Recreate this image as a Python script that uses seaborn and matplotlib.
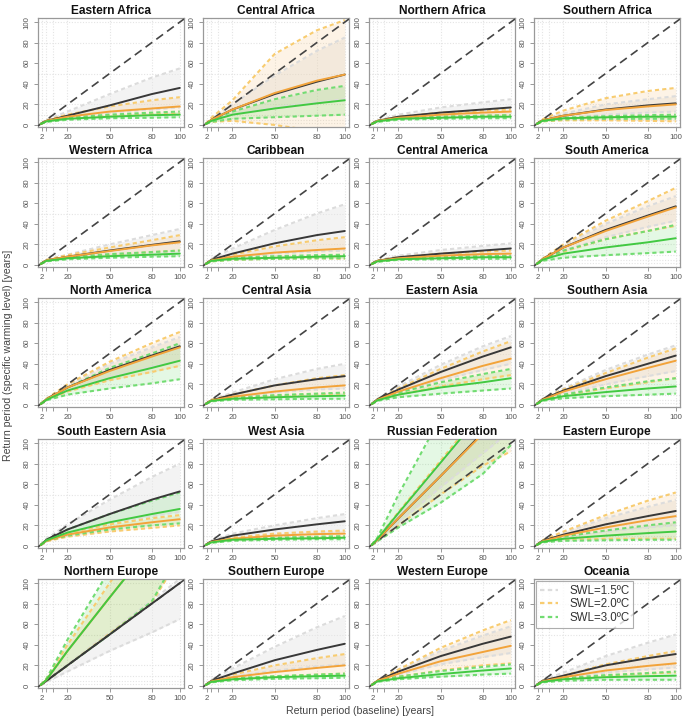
import matplotlib
matplotlib.use("Agg")
import matplotlib.pyplot as plt
from matplotlib.lines import Line2D
import pandas as pd
import seaborn as sns

regions = ["Eastern Africa", "Central Africa", "Northern Africa", "Southern Africa",
           "Western Africa", "Caribbean", "Central America", "South America",
           "North America", "Central Asia", "Eastern Asia", "Southern Asia",
           "South Eastern Asia", "West Asia", "Russian Federation", "Eastern Europe",
           "Northern Europe", "Southern Europe", "Western Europe", "Oceania"]

# baseline return periods at which the curves were read
rp = [1, 5, 20, 50, 80, 100]

# SWL = 1.5 degC : median / lower / upper
med_15 = [
    [1, 4, 9, 19, 30, 36], [1, 5, 15, 30, 42, 49], [1, 4, 8, 12, 15, 17], [1, 4.5, 9, 15, 19, 21],
    [1, 4.5, 8, 14, 19.5, 23], [1, 5, 11, 21, 29, 33], [1, 4, 7.5, 11, 14, 16], [1, 5.5, 17, 34, 48, 57],
    [1, 5.5, 17, 34, 48, 57], [1, 4.5, 10, 19, 25, 28], [1, 5.5, 15, 32, 47, 56], [1, 5.5, 14, 28, 40, 48],
    [1, 6, 16, 31, 45, 53], [1, 4.5, 10, 16, 21, 24], [1, 6, 27, 68, 110, 137], [1, 5, 11, 21, 29, 34],
    [1, 5, 20, 50, 80, 100], [1, 5, 12, 25, 35, 41], [1, 5, 14, 29, 41, 48], [1, 5, 10, 20, 27, 31]]
low_15 = [
    [1, 3.5, 7, 12, 15, 17], [1, 4, 10, 17, 22, 25], [1, 3.5, 6, 8, 9, 10], [1, 4, 7, 10, 12, 13],
    [1, 4, 6.5, 10, 12, 13], [1, 4, 7, 11, 13, 14], [1, 3.5, 6, 8, 9.5, 10], [1, 5, 14, 27, 37, 43],
    [1, 5, 14, 27, 37, 43], [1, 4, 7.5, 12, 15, 16], [1, 5, 12, 24, 34, 40], [1, 5, 11, 20, 28, 33],
    [1, 5, 12, 22, 29, 33], [1, 4, 7.5, 11, 13, 14], [1, 5.5, 23, 57, 90, 112], [1, 4.5, 8, 14, 18, 20],
    [1, 4, 14, 34, 52, 65], [1, 4.5, 9, 15, 19, 21], [1, 4.5, 11, 21, 28, 32], [1, 4.5, 8, 13, 16, 18]]
high_15 = [
    [1, 5, 13, 30, 46, 55], [1, 6, 20, 48, 72, 85], [1, 4.5, 10, 17, 22, 25], [1, 5, 11, 20, 25, 28],
    [1, 5, 10, 20, 29, 35], [1, 6, 16, 34, 50, 59], [1, 4.5, 9, 14.5, 18.5, 21], [1, 6, 19, 40, 57, 67],
    [1, 6, 19, 40, 56, 66], [1, 5, 12, 25, 35, 40], [1, 6, 18, 39, 57, 67], [1, 6, 16, 34, 49, 58],
    [1, 7, 21, 45, 67, 80], [1, 5, 12, 20, 27, 31], [1, 6.5, 31, 80, 128, 160], [1, 5.5, 13, 27, 38, 45],
    [1, 5.5, 21, 52, 83, 104], [1, 6, 17, 38, 57, 68], [1, 5.5, 16, 34, 49, 58], [1, 5.5, 13, 29, 42, 50]]

# SWL = 2.0 degC
med_20 = [
    [1, 4, 8, 13, 16, 18], [1, 5, 15, 31, 43, 49], [1, 4, 7, 10, 12, 13], [1, 4.5, 9, 14.5, 18, 20],
    [1, 4.5, 8, 13.5, 19, 22], [1, 4.5, 8, 12, 14.5, 16], [1, 4, 6.5, 9, 10.5, 11], [1, 5.5, 17, 33, 47, 56],
    [1, 5.5, 17, 33, 47, 56], [1, 4.5, 8, 13, 17, 19], [1, 5, 13, 26, 38, 45], [1, 5, 13, 25, 36, 43],
    [1, 5, 11, 18, 23, 26], [1, 4, 7, 10, 11.5, 12], [1, 6, 27, 68, 109, 136], [1, 4.5, 10, 18, 25, 29],
    [1, 6, 34, 86, 138, 172], [1, 4.5, 8.5, 13.5, 17.5, 20], [1, 5, 12, 24, 33, 39], [1, 4.5, 8.5, 15, 19.5, 22]]
low_20 = [
    [1, 3.5, 6, 9, 10.5, 11], [1, 3, 4, 0, -6, -10], [1, 3.5, 6, 8, 9, 9.5], [1, 3.5, 4.5, 4.5, 4, 3.5],
    [1, 4, 6.5, 10, 12.5, 14], [1, 3.5, 5, 6, 6.5, 6], [1, 3.5, 5.5, 7, 8, 8.5], [1, 5, 13, 25, 33, 38],
    [1, 5, 13, 24, 32, 38], [1, 4, 6.5, 9, 10.5, 11], [1, 4.5, 10, 18, 25, 29], [1, 4.5, 9.5, 16, 22, 26],
    [1, 4.5, 9, 14, 17.5, 20], [1, 3.5, 6, 7.5, 8.5, 9], [1, 5, 20, 50, 78, 92], [1, 4, 6, 7, 7, 7],
    [1, 5, 20, 51, 81, 125], [1, 4, 6.5, 9, 11, 12], [1, 4.5, 9, 15, 20, 22], [1, 4, 6.5, 10, 12, 13]]
high_20 = [
    [1, 4.5, 10, 18, 24, 27], [1, 7, 24, 69, 92, 102], [1, 4, 8, 12, 14, 15], [1, 5.5, 14, 26, 33, 36],
    [1, 5, 9.5, 17, 24, 29], [1, 5, 10, 18, 24, 27], [1, 4.5, 7.5, 11, 13, 14], [1, 6, 20, 43, 62, 75],
    [1, 6, 20, 42, 60, 71], [1, 5, 10, 19, 26, 29], [1, 5.5, 16, 35, 52, 62], [1, 5.5, 15, 31, 46, 55],
    [1, 5.5, 12.5, 21, 27, 30], [1, 4.5, 8, 12, 14, 15], [1, 7, 33, 83, 133, 166], [1, 5.5, 14, 30, 44, 52],
    [1, 7, 40, 100, 160, 200], [1, 5, 11, 20, 27, 31], [1, 5.5, 16, 37, 54, 64], [1, 5, 10, 21, 29, 34]]

# SWL = 3.0 degC
med_30 = [
    [1, 3.5, 6, 8, 9.5, 10], [1, 4, 10, 16, 21, 24], [1, 3.5, 6, 7, 8, 8], [1, 4, 6.5, 7.5, 8, 8],
    [1, 4, 6.5, 8.5, 10, 11], [1, 4, 6, 7, 8, 8.5], [1, 3.5, 5.5, 6.5, 7.5, 7.5], [1, 5, 11, 17, 22, 26],
    [1, 5, 14, 26, 36, 43], [1, 4, 6, 7.5, 8.5, 9], [1, 4.5, 10, 17, 22, 26], [1, 4.5, 8.5, 12.5, 16, 18],
    [1, 5.5, 13, 23, 31, 36], [1, 3.5, 6, 7, 7.5, 8], [1, 7, 32, 81, 130, 162], [1, 4, 7, 10, 12.5, 14],
    [1, 6, 34, 86, 137, 171], [1, 4, 6.5, 8.5, 9.5, 10], [1, 4.5, 7.5, 11.5, 15, 17], [1, 4, 6.5, 8.5, 9.5, 10]]
low_30 = [
    [1, 3, 5, 6.5, 7, 7.5], [1, 3, 6, 7.5, 9, 10], [1, 3, 5, 6, 6.5, 6.5], [1, 3.5, 5.5, 6, 6, 6],
    [1, 3.5, 5.5, 7, 8, 8.5], [1, 3.5, 5, 6, 6.5, 6.5], [1, 3, 5, 5.5, 6, 6], [1, 4, 7, 9.5, 11.5, 13],
    [1, 4.5, 10, 16, 21, 25], [1, 3.5, 5, 5.5, 6, 6], [1, 4, 7.5, 11, 14, 16], [1, 4, 6.5, 8.5, 10, 11],
    [1, 5, 10, 16, 20, 22], [1, 3, 5, 6, 6.5, 6.5], [1, 4.5, 18, 42, 70, 98], [1, 3.5, 5, 5.5, 6, 6],
    [1, 5, 20, 50, 82, 130], [1, 3.5, 5.5, 7, 7.5, 8], [1, 4, 6.5, 9, 11, 12], [1, 3.5, 5, 6, 6, 6]]
high_30 = [
    [1, 4, 7, 10, 12, 13], [1, 5, 13, 25, 34, 38], [1, 4, 6.5, 8, 9, 9.5], [1, 4.5, 7, 8.5, 9.5, 10],
    [1, 4.5, 7.5, 10.5, 12.5, 14], [1, 4.5, 7, 8.5, 9.5, 10], [1, 4, 6, 7.5, 8.5, 9], [1, 5.5, 14, 25, 33, 39],
    [1, 5.5, 17, 36, 50, 60], [1, 4.5, 7, 9.5, 11, 12], [1, 5, 12, 22, 30, 35], [1, 5, 10, 17, 23, 26],
    [1, 6, 16, 31, 44, 52], [1, 4, 6.5, 8, 9, 9.5], [1, 8, 50, 125, 200, 250], [1, 4.5, 9, 15, 20, 23],
    [1, 7, 45, 113, 180, 226], [1, 4.5, 7.5, 9.5, 11, 12], [1, 5, 9, 14.5, 18.5, 21], [1, 4.5, 7.5, 10.5, 12.5, 14]]

swl_labels = ["SWL=1.5ºC", "SWL=2.0ºC", "SWL=3.0ºC"]
series = {"SWL=1.5ºC": (low_15, med_15, high_15),
          "SWL=2.0ºC": (low_20, med_20, high_20),
          "SWL=3.0ºC": (low_30, med_30, high_30)}

rows = []
for i, reg in enumerate(regions):
    for swl, (lo, md, hi) in series.items():
        for stat, arr in (("low", lo[i]), ("med", md[i]), ("high", hi[i])):
            for x, v in zip(rp, arr):
                rows.append({"region": reg, "swl": swl, "stat": stat, "rp": x, "value": v})
df = pd.DataFrame(rows)

sns.set_style("white")
plt.rcParams['font.family'] = ['Liberation Sans', 'DejaVu Sans']

med_col = {"SWL=1.5ºC": "#383838", "SWL=2.0ºC": "#F2A33A", "SWL=3.0ºC": "#42C942"}
dash_col = {"SWL=1.5ºC": "#DCDCDC", "SWL=2.0ºC": "#F8CC70", "SWL=3.0ºC": "#72DC72"}
fill_col = {"SWL=1.5ºC": ("#E6E6E6", 0.45), "SWL=2.0ºC": ("#F5B050", 0.14), "SWL=3.0ºC": ("#40D040", 0.14)}

W, H = 685, 722
fig = plt.figure(figsize=(W / 100, H / 100), dpi=100)
lefts = [38, 203, 369, 534]
tops = [18, 158, 298, 439, 579]
pw, ph = 146, 109
grid_vals = [2, 5, 10, 20, 50, 80, 100]

for i, reg in enumerate(regions):
    r, c = divmod(i, 4)
    ax = fig.add_axes([lefts[c] / W, 1 - (tops[r] + ph) / H, pw / W, ph / H])
    sub = df[df.region == reg]
    for g in grid_vals:
        ax.axvline(g, color="#E4E4E4", lw=0.8, ls=(0, (1, 1.5)), zorder=0)
        ax.axhline(g, color="#E4E4E4", lw=0.8, ls=(0, (1, 1.5)), zorder=0)
    for swl in swl_labels:
        w = sub[sub.swl == swl].pivot(index="rp", columns="stat", values="value")
        col, a = fill_col[swl]
        ax.fill_between(w.index, w["low"], w["high"], color=col, alpha=a, lw=0, zorder=1)
    for swl in swl_labels:
        for stat in ("low", "high"):
            sns.lineplot(data=sub[(sub.swl == swl) & (sub.stat == stat)], x="rp", y="value",
                         ax=ax, color=dash_col[swl], lw=1.5, linestyle=(0, (2, 1.5)), zorder=2)
    ax.axline((0, 0), slope=1, color="#444444", lw=1.2, ls=(0, (5, 3)), zorder=3)
    for swl in swl_labels:
        sns.lineplot(data=sub[(sub.swl == swl) & (sub.stat == "med")], x="rp", y="value",
                     ax=ax, color=med_col[swl], lw=1.4, zorder=4)
    ax.set_xlim(-1, 103)
    ax.set_ylim(-2, 104)
    ax.set_xticks(grid_vals)
    ax.set_xticklabels(["2", "", "", "20", "50", "80", "100"])
    ax.set_yticks([0, 20, 40, 60, 80, 100])
    ax.set_yticklabels(["0", "20", "40", "60", "80", "100"], rotation=90, va="center")
    ax.tick_params(axis="both", length=3.2, width=0.6, color="#888888", labelsize=5.6,
                   labelcolor="#555555", pad=2, bottom=True, left=True)
    ax.set_xlabel("")
    ax.set_ylabel("")
    for s in ax.spines.values():
        s.set_color("#999999")
        s.set_linewidth(0.9)
    ax.set_title(reg, fontsize=8.6, fontweight="bold", color="#111111", pad=3)

    if reg == "Oceania":
        handles = [Line2D([], [], color=dash_col[s], lw=1.6, ls=(0, (2, 1.5))) for s in swl_labels]
        leg = ax.legend(handles, swl_labels, loc="upper left", fontsize=8.3, frameon=True,
                        fancybox=False, borderaxespad=0.2, handlelength=1.6, handletextpad=1.0,
                        labelspacing=0.15, borderpad=0.3, labelcolor="#333333")
        leg.get_frame().set_edgecolor("#999999")
        leg.get_frame().set_linewidth(0.8)
        leg.set_zorder(10)
    elif ax.get_legend() is not None:
        ax.get_legend().remove()

fig.text(360 / W, 1 - 711 / H, "Return period (baseline) [years]", ha="center", va="center",
         fontsize=7.6, color="#444444")
fig.text(8 / W, 1 - 355 / H, "Return period (specific warming level) [years]", ha="center",
         va="center", rotation=90, fontsize=7.6, color="#444444")

fig.savefig("out.png", dpi=100)
